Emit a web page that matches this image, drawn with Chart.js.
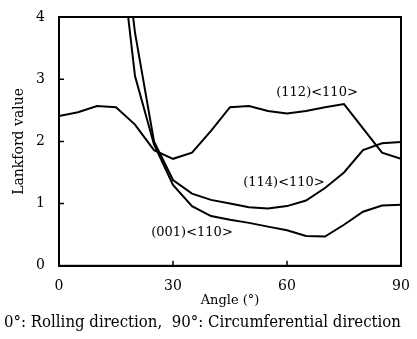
<!DOCTYPE html>
<html>
<head>
<meta charset="utf-8">
<script src="https://cdn.jsdelivr.net/npm/chart.js@4"></script>
<style>
  html, body { margin: 0; padding: 0; background: #fff; }
  #wrap { width: 417px; height: 339px; }
</style>
</head>
<body>
<div id="wrap"><canvas id="lankford"></canvas></div>
<script>
// angle from rolling direction (deg)
const angles = [0, 5, 10, 15, 20, 25, 30, 35, 40, 45, 50, 55, 60, 65, 70, 75, 80, 85, 90];
// Lankford values (values above 4 run off the top)
const r112 = [2.41, 2.47, 2.57, 2.55, 2.27, 1.86, 1.72, 1.82, 2.17, 2.55, 2.57, 2.49, 2.45, 2.49, 2.55, 2.60, 2.21, 1.82, 1.72];
const r114 = [null, null, null, 6.25, 3.75, 2.00, 1.38, 1.16, 1.06, 1.00, 0.94, 0.92, 0.96, 1.05, 1.25, 1.50, 1.86, 1.97, 1.99];
const r001 = [null, null, null, 5.70, 3.05, 1.95, 1.30, 0.96, 0.80, 0.74, 0.69, 0.63, 0.57, 0.48, 0.47, 0.66, 0.87, 0.97, 0.98];
const xTicks = [0, 30, 60, 90];
const yTicks = [0, 1, 2, 3, 4];

const curveLabels = [
  { text: '(112)<110>', x: 67.9, y: 2.78 },
  { text: '(114)<110>', x: 59.2, y: 1.33 },
  { text: '(001)<110>', x: 35.0, y: 0.53 }
];

const serif = 'DejaVu Serif';

function toPoints(vals) {
  return angles.map((a, i) => ({ x: a, y: vals[i] }));
}

function lineSet(label, vals) {
  return {
    label: label,
    data: toPoints(vals),
    borderColor: '#000',
    borderWidth: 2,
    pointRadius: 0,
    tension: 0,
    fill: false,
    spanGaps: false
  };
}

// frame on all four sides, inward tick marks and the curve names
const frameAndLabels = {
  id: 'frameAndLabels',
  afterDatasetsDraw(chart) {
    const { ctx, chartArea: a, scales } = chart;
    ctx.save();
    ctx.strokeStyle = '#000';
    ctx.lineWidth = 2;
    ctx.strokeRect(a.left, a.top, a.right - a.left, a.bottom - a.top);

    ctx.lineWidth = 1.5;
    ctx.beginPath();
    xTicks.slice(1, -1).forEach(v => {
      const px = scales.x.getPixelForValue(v);
      ctx.moveTo(px, a.bottom);
      ctx.lineTo(px, a.bottom - 5);
    });
    yTicks.slice(1, -1).forEach(v => {
      const py = scales.y.getPixelForValue(v);
      ctx.moveTo(a.left, py);
      ctx.lineTo(a.left + 5, py);
    });
    ctx.stroke();

    ctx.fillStyle = '#000';
    ctx.font = '13px "' + serif + '"';
    ctx.textAlign = 'center';
    ctx.textBaseline = 'middle';
    curveLabels.forEach(l => {
      ctx.fillText(l.text, scales.x.getPixelForValue(l.x), scales.y.getPixelForValue(l.y));
    });
    ctx.restore();
  }
};

new Chart(document.getElementById('lankford'), {
  type: 'line',
  data: {
    datasets: [
      lineSet('(112)<110>', r112),
      lineSet('(114)<110>', r114),
      lineSet('(001)<110>', r001)
    ]
  },
  options: {
    responsive: true,
    maintainAspectRatio: false,
    animation: false,
    layout: { padding: { left: 4, right: 16, top: 17, bottom: 4 } },
    scales: {
      x: {
        type: 'linear',
        min: 0,
        max: 90,
        afterBuildTicks: s => { s.ticks = xTicks.map(v => ({ value: v })); },
        afterFit: s => {
          s.height = 44;
          s.paddingLeft = 0;
          s.paddingRight = 0;
        },
        ticks: { color: '#000', padding: 12, font: { family: serif, size: 14 } },
        grid: { display: false, drawTicks: false },
        border: { display: true, color: '#000', width: 2 },
        title: {
          display: true,
          text: 'Angle (°)',
          color: '#000',
          font: { family: serif, size: 13 },
          padding: { top: 0, bottom: 1 }
        }
      },
      y: {
        min: 0,
        max: 4,
        afterBuildTicks: s => { s.ticks = yTicks.map(v => ({ value: v })); },
        afterFit: s => {
          s.width = 55;
          s.paddingTop = 0;
          s.paddingBottom = 0;
        },
        ticks: { color: '#000', padding: 14, font: { family: serif, size: 14 } },
        grid: { display: false, drawTicks: false },
        border: { display: true, color: '#000', width: 2 },
        title: {
          display: true,
          text: 'Lankford value',
          color: '#000',
          font: { family: serif, size: 14 },
          padding: { top: 7, bottom: 0 }
        }
      }
    },
    plugins: {
      legend: { display: false },
      tooltip: { enabled: false },
      title: {
        display: true,
        position: 'bottom',
        text: '0°: Rolling direction,  90°: Circumferential direction',
        color: '#000',
        font: { family: serif, size: 16, weight: 'normal' },
        padding: { top: 3, bottom: 3 }
      }
    }
  },
  plugins: [frameAndLabels]
});
</script>
</body>
</html>
